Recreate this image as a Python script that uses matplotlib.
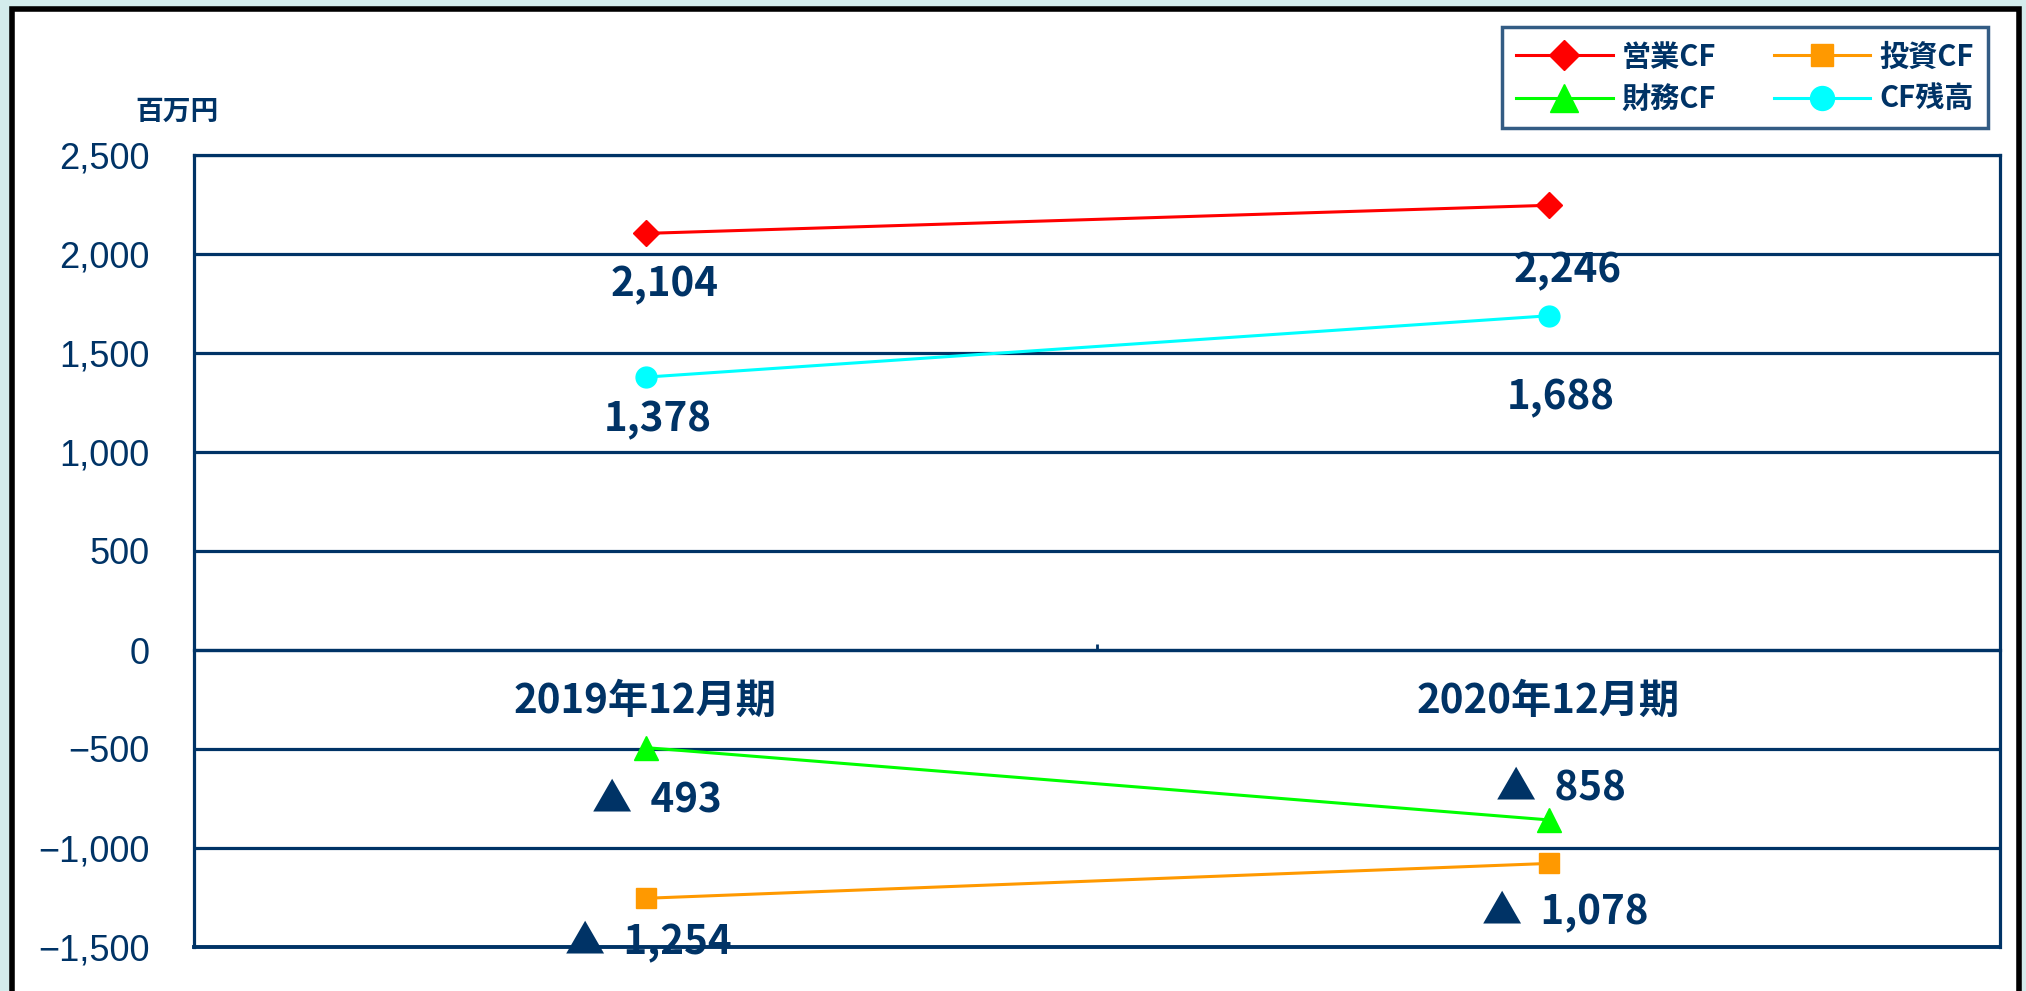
import matplotlib
matplotlib.use("Agg")
import matplotlib.pyplot as plt
from matplotlib.patches import Rectangle
from matplotlib.ticker import MultipleLocator, FuncFormatter

# ---- data ----
categories = ["2019年12月期", "2020年12月期"]
series_names = ["営業CF", "投資CF", "財務CF", "CF残高"]
eigyo_cf = [2104, 2246]
toshi_cf = [-1254, -1078]
zaimu_cf = [-493, -858]
cf_zandaka = [1378, 1688]
unit_label = "百万円"

NAVY = "#003366"
W, H = 2026, 991
fig = plt.figure(figsize=(W / 100, H / 100), dpi=100)
fig.patch.set_facecolor("#d3ecec")

# white panel with black border
panel = Rectangle((12 / W, -0.05), (2019 - 12) / W, 1.05 - 9 / H,
                  transform=fig.transFigure, facecolor="white",
                  edgecolor="black", linewidth=4.0, zorder=-10)
fig.patches.append(panel)

ax = fig.add_axes([194 / W, 1 - 947 / H, (2000 - 194) / W, (947 - 155) / H])
ax.set_zorder(1)
ax.set_facecolor("white")

CJK = ["Noto Sans CJK JP", "DejaVu Sans"]

x = list(range(len(categories)))
styles = {
    "営業CF": dict(color="#ff0000", marker="D", ms=13),
    "投資CF": dict(color="#ff9900", marker="s", ms=14),
    "財務CF": dict(color="#00ff00", marker="^", ms=17),
    "CF残高": dict(color="#00ffff", marker="o", ms=15),
}
data = {"営業CF": eigyo_cf, "投資CF": toshi_cf, "財務CF": zaimu_cf, "CF残高": cf_zandaka}
handles = {}
for name in series_names:
    st = styles[name]
    h, = ax.plot(x, data[name], color=st["color"], lw=2.2, marker=st["marker"],
                 ms=st["ms"], mfc=st["color"], mec=st["color"], zorder=5,
                 clip_on=False, label=name)
    handles[name] = h

ax.set_xlim(-0.5, len(categories) - 0.5)
ax.set_ylim(-1500, 2500)
ax.yaxis.set_major_locator(MultipleLocator(500))
ax.yaxis.set_major_formatter(FuncFormatter(lambda v, p: f"{int(v):,}".replace("-", "\u2212")))
ax.tick_params(axis="y", length=0, pad=32, labelsize=26, labelcolor=NAVY)
for lab in ax.get_yticklabels():
    lab.set_family("Liberation Sans")
ax.grid(axis="y", color=NAVY, lw=2.3, zorder=1)
ax.set_axisbelow(True)

# spines
for s in ["left", "right", "top"]:
    ax.spines[s].set_color(NAVY)
    ax.spines[s].set_linewidth(2.3)
ax.spines["bottom"].set_position(("data", 0))
ax.spines["bottom"].set_color(NAVY)
ax.spines["bottom"].set_linewidth(2.3)
ax.axhline(-1500, color=NAVY, lw=2.8, clip_on=False, zorder=2)

ax.set_xticks(x)
ax.set_xticklabels(categories, family=CJK, fontweight="bold", fontsize=29, color=NAVY)
ax.tick_params(axis="x", which="major", length=0, pad=22)
ax.set_xticks([0.5], minor=True)
ax.tick_params(axis="x", which="minor", direction="in", length=4, width=2, color=NAVY)

# data labels (offsets in points)
offsets = {
    "営業CF": [(14, -37), (14, -47)],
    "CF残高": [(9, -31), (9, -59)],
    "財務CF": [(8, -38), (9, 23)],
    "投資CF": [(2, -32), (12, -35)],
}
for name in series_names:
    for i, v in enumerate(data[name]):
        txt = f"{v:,}" if v >= 0 else "▲  " + f"{abs(v):,}"
        dx, dy = offsets[name][i]
        ax.annotate(txt, (x[i], v), xytext=(dx, dy), textcoords="offset points",
                    ha="center", va="center", fontsize=29, fontweight="bold",
                    color=NAVY, family=CJK, annotation_clip=False, zorder=6)

# unit label
fig.text(177 / W, 1 - 112 / H, unit_label, ha="center", va="center",
         fontsize=20, fontweight="bold", color=NAVY, family=CJK)

# legend (row-major order)
order = ["営業CF", "財務CF", "投資CF", "CF残高"]
leg = fig.legend([handles[n] for n in order], order, ncol=2,
                 loc="upper right", bbox_to_anchor=(1988 / W, 1 - 27 / H),
                 borderaxespad=0, fancybox=False, frameon=True,
                 handlelength=3.3, handletextpad=0.3, columnspacing=2.0,
                 labelspacing=0.42, borderpad=0.5, markerscale=1.15,
                 prop=dict(family=CJK, weight="bold", size=21))
leg.get_frame().set_edgecolor(NAVY)
leg.get_frame().set_linewidth(2.5)
for t in leg.get_texts():
    t.set_color(NAVY)

fig.savefig("out.png", dpi=100, facecolor=fig.get_facecolor())
